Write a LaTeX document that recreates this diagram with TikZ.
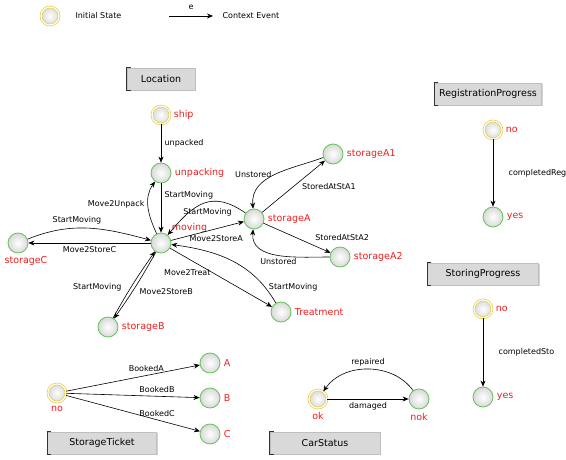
\documentclass[tikz,border=0pt]{standalone}
\usepackage{fontspec}
\setmainfont{DejaVu Sans}
\usetikzlibrary{arrows.meta,shadows}
\definecolor{stgreen}{RGB}{100,195,90}
\definecolor{styellow}{RGB}{228,205,90}
\definecolor{stred}{RGB}{240,30,30}
\begin{document}
\begin{tikzpicture}
[x=1pt,y=1pt,
every node/.style={font=\fontsize{8}{9}\selectfont},
stnode/.style={circle,minimum size=20pt,inner sep=0pt,draw=stgreen,line width=0.8pt,inner color=white,outer color=gray!30},
initnode/.style={stnode,minimum size=18pt,draw=styellow,double=yellow!10,double distance=1.2pt,line width=0.7pt},
stname/.style={text=stred,font=\fontsize{9.5}{11}\selectfont},
ev/.style={-{Stealth[length=6pt,width=5pt]},line width=0.6pt},
titlebox/.style={fill=gray!30,draw=gray!50,minimum height=22pt,minimum width=110pt,font=\fontsize{9.5}{11}\selectfont,drop shadow={shadow xshift=1.2pt,shadow yshift=-1.2pt,opacity=0.35}},
bracket/.style={draw=gray!40!black,line width=0.8pt}]
\useasboundingbox (0,0) rectangle (566,-460);

\node[initnode] (legInit) at (50,-16) {};
\node[right] (legInitText) at (72,-16) {Initial State};
\coordinate (legA) at (169,-16);
\coordinate (legB) at (213,-16);
\draw[ev] (legA) -- node[above=3pt]{e} (legB);
\node[right] (legEvText) at (219,-16) {Context Event};

\node[titlebox,minimum width=68pt] (tLocation) at (161,-79) {Location};
\draw[bracket] ([xshift=4pt]tLocation.north west) -| (tLocation.south west) -- ++(4pt,0);

\node[initnode,label={[stname]right:ship}] (ship) at (161,-115) {};
\node[stnode,label={[stname]right:unpacking}] (unpacking) at (161,-173) {};
\node[stnode,label={[stname]45:moving}] (moving) at (161,-243) {};
\node[stnode,label={[stname]right:storageA}] (storageA) at (254,-219) {};
\node[stnode,label={[stname]right:storageA1}] (storageA1) at (333,-154) {};
\node[stnode,label={[stname]right:storageA2}] (storageA2) at (340,-257) {};
\node[stnode,label={[stname,xshift=8pt]below:storageC}] (storageC) at (18,-243) {};
\node[stnode,label={[stname]right:storageB}] (storageB) at (108,-327) {};
\node[stnode,label={[stname]right:Treatment}] (treatment) at (281,-312) {};

\draw[ev] (ship) -- node[right]{unpacked} (unpacking);
\draw[ev] (unpacking) -- node[pos=0.25,right]{StartMoving} (moving);
\draw[ev] (moving) to[out=115,in=235] node[pos=0.55,left]{Move2Unpack} (unpacking);
\draw[ev] (moving) -- node[pos=0.62,below=3pt]{Move2StoreA} (storageA);
\draw[ev] (storageA) to[out=145,in=50,looseness=1.3] node[pos=0.45,below=3pt]{StartMoving} (moving);
\draw[ev] (storageA) -- node[midway,right=5pt]{StoredAtStA1} (storageA1);
\draw[ev] (storageA1) to[out=200,in=95] node[left]{Unstored} (storageA);
\draw[ev] (storageA) -- node[pos=0.72,above right]{StoredAtStA2} (storageA2);
\draw[ev] (storageA2) to[out=180,in=265] node[below]{Unstored} (storageA);
\draw[ev] (moving) -- node[below]{Move2StoreC} (storageC);
\draw[ev] (storageC) to[out=22,in=165] node[pos=0.4,above]{StartMoving} (moving);
\draw[ev] (moving) to[bend left=3] node[pos=0.6,right=4pt]{Move2StoreB} (storageB);
\draw[ev] (storageB) to[bend left=3] node[pos=0.45,left=6pt]{StartMoving} (moving);
\draw[ev] (moving) -- node[pos=0.17,below=8pt]{Move2Treat} (treatment);
\draw[ev] (treatment) to[out=120,in=-8] node[pos=0.14,right]{StartMoving} (moving);

\node[titlebox,minimum width=107pt] (tRegistration) at (488,-94) {RegistrationProgress};
\draw[bracket] ([xshift=4pt]tRegistration.north west) -| (tRegistration.south west) -- ++(4pt,0);
\node[initnode,label={[stname]right:no}] (regNo) at (493,-130) {};
\node[stnode,label={[stname]right:yes}] (regYes) at (493,-217) {};
\draw[ev] (regNo) -- node[right=12pt]{completedReg} (regYes);

\node[titlebox,minimum width=111pt] (tStoring) at (483,-274) {StoringProgress};
\draw[bracket] ([xshift=4pt]tStoring.north west) -| (tStoring.south west) -- ++(4pt,0);
\node[initnode,label={[stname]right:no}] (stoNo) at (483,-309) {};
\node[stnode,label={[stname]right:yes}] (stoYes) at (483,-397) {};
\draw[ev] (stoNo) -- node[right=12pt]{completedSto} (stoYes);

\node[initnode,label={[stname]below:no}] (tkNo) at (57,-393) {};
\node[stnode,label={[stname]right:A}] (tkA) at (210,-363) {};
\node[stnode,label={[stname]right:B}] (tkB) at (210,-398) {};
\node[stnode,label={[stname]right:C}] (tkC) at (210,-434) {};
\draw[ev] (tkNo) -- node[pos=0.6,above]{BookedA} (tkA);
\draw[ev] (tkNo) -- node[pos=0.68,above]{BookedB} (tkB);
\draw[ev] (tkNo) -- node[pos=0.68,above]{BookedC} (tkC);
\node[titlebox,minimum width=109pt] (tTicket) at (102,-443) {StorageTicket};
\draw[bracket] ([xshift=4pt]tTicket.north west) -| (tTicket.south west) -- ++(4pt,0);

\node[initnode,label={[stname]below:ok}] (carOk) at (318,-399) {};
\node[stnode,label={[stname]below:nok}] (carNok) at (419,-399) {};
\draw[ev] (carOk) -- node[below]{damaged} (carNok);
\draw[ev] (carNok) to[bend right=55] node[above]{repaired} (carOk);
\node[titlebox,minimum width=110pt] (tCar) at (325,-443) {CarStatus};
\draw[bracket] ([xshift=4pt]tCar.north west) -| (tCar.south west) -- ++(4pt,0);
\end{tikzpicture}
\end{document}
